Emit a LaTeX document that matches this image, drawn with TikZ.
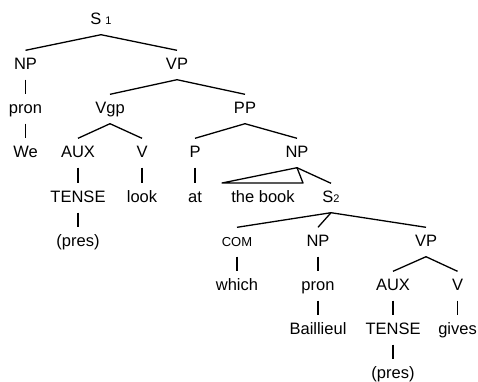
\documentclass[tikz,border=0pt]{standalone}
\usepackage{fontspec}
\setmainfont{Liberation Sans}
\begin{document}
\begin{tikzpicture}[x=1pt,y=-1pt,
  lab/.style={anchor=base,inner sep=7pt,text height=11.5pt,text depth=3.5pt,font=\fontsize{16.5}{19}\selectfont},
  smalllab/.style={lab,font=\fontsize{13}{15}\selectfont},
  edge/.style={line width=1.3pt,line join=round}]
\useasboundingbox (0,0) rectangle (478,381);
\newcommand{\subnum}[1]{{\fontsize{11}{13}\selectfont #1}}
% level 0
\node[lab] (s1) at (101,24) {S\hspace{4pt}\subnum{1}};
% level 1
\node[lab] (np1) at (25.5,69) {NP};
\node[lab] (vp1) at (177,69) {VP};
% level 2
\node[lab] (pron1) at (25.5,113) {pron};
\node[lab] (vgp) at (110,113) {Vgp};
\node[lab] (pp) at (245,113) {PP};
% level 3
\node[lab] (we) at (25.5,157) {We};
\node[lab] (aux1) at (78,157) {AUX};
\node[lab] (v1) at (142,157) {V};
\node[lab] (p) at (195,157) {P};
\node[lab] (np2) at (297,157) {NP};
% level 4
\node[lab] (tense1) at (78,202) {TENSE};
\node[lab] (look) at (142,202) {look};
\node[lab] (at) at (195,202) {at};
\node[lab] (thebook) at (263,202) {the book};
\node[lab] (s2) at (331,202) {S\subnum{2}};
% level 5
\node[lab] (pres1) at (78,246) {(pres)};
\node[smalllab] (com) at (237,246) {COM};
\node[lab] (np3) at (318,246) {NP};
\node[lab] (vp2) at (426,246) {VP};
% level 6
\node[lab] (which) at (237,290) {which};
\node[lab] (pron2) at (318,290) {pron};
\node[lab] (aux2) at (393,290) {AUX};
\node[lab] (v2) at (457.5,290) {V};
% level 7
\node[lab] (baill) at (318,334) {Baillieul};
\node[lab] (tense2) at (393,334) {TENSE};
\node[lab] (gives) at (457.5,334) {gives};
% level 8
\node[lab] (pres2) at (393,378) {(pres)};
% connectors
\coordinate (tl) at (222,183);
\coordinate (tr) at (303,183);
\draw[edge] (np1.north) -- (s1.south) -- (vp1.north);
\draw[edge] (np1.south) -- (pron1.north);
\draw[edge] (pron1.south) -- (we.north);
\draw[edge] (vgp.north) -- (vp1.south) -- (pp.north);
\draw[edge] (aux1.north) -- (vgp.south) -- (v1.north);
\draw[edge] (p.north) -- (pp.south) -- (np2.north);
\draw[edge] (aux1.south) -- (tense1.north);
\draw[edge] (tense1.south) -- (pres1.north);
\draw[edge] (v1.south) -- (look.north);
\draw[edge] (p.south) -- (at.north);
\draw[edge] (np2.south) -- (tl) -- (tr) -- cycle;
\draw[edge] (np2.south) -- (s2.north);
\draw[edge] (com.north) -- (s2.south) -- (vp2.north);
\draw[edge] (s2.south) -- (np3.north);
\draw[edge] (com.south) -- (which.north);
\draw[edge] (np3.south) -- (pron2.north);
\draw[edge] (pron2.south) -- (baill.north);
\draw[edge] (aux2.north) -- (vp2.south) -- (v2.north);
\draw[edge] (aux2.south) -- (tense2.north);
\draw[edge] (tense2.south) -- (pres2.north);
\draw[edge] (v2.south) -- (gives.north);
\end{tikzpicture}
\end{document}
